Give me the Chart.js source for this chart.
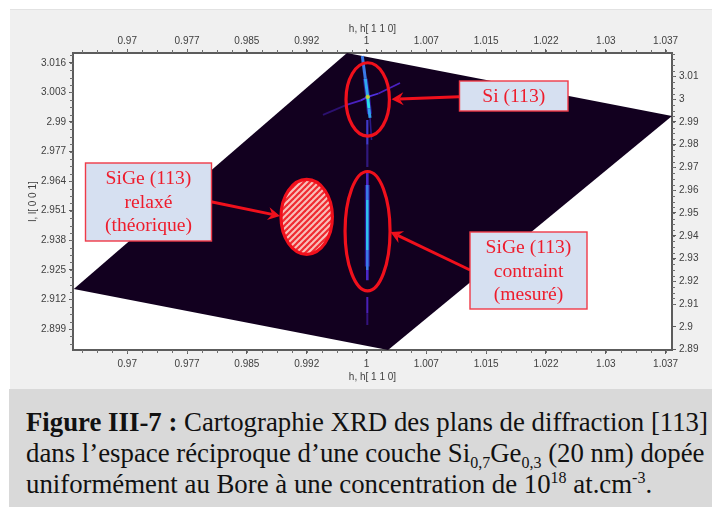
<!DOCTYPE html>
<html lang="fr">
<head>
<meta charset="utf-8">
<title>Figure III-7</title>
<script src="https://cdn.jsdelivr.net/npm/chart.js@4"></script>
<style>
  html, body { margin: 0; padding: 0; background: #fff; }
  body { position: relative; width: 712px; height: 507px; overflow: hidden; }
  #panel { position: absolute; left: 10px; top: 9px; width: 702px; height: 379px; background: #f0f0f0; border-top: 1px solid #e2e2e2; }
  #map { position: absolute; left: 0; top: 0; filter: blur(0.5px); }
  #caption { position: absolute; left: 9px; top: 389px; width: 703px; height: 118px; background: #d9d9d9; }
  #caption div { position: absolute; left: 17px; font: 26.8px/31px "Liberation Serif", serif; color: #111; white-space: nowrap; }
  #caption sub, #caption sup { font-size: 16px; line-height: 0; }
</style>
</head>
<body>
<div id="panel"></div>
<canvas id="map" width="712" height="389"></canvas>
<div id="caption">
  <div style="top:18px"><b>Figure III-7 :</b> Cartographie XRD des plans de diffraction [113]</div>
  <div style="top:49px">dans l’espace réciproque d’une couche Si<sub>0,7</sub>Ge<sub>0,3</sub> (20 nm) dopée</div>
  <div style="top:80px">uniformément au Bore à une concentration de 10<sup>18</sup> at.cm<sup>-3</sup>.</div>
</div>
<script>
// axis ticks
const hTicks = [0.97, 0.9775, 0.985, 0.9925, 1, 1.0075, 1.015, 1.0225, 1.03, 1.0375];
const hLabels = ["0.97", "0.977", "0.985", "0.992", "1", "1.007", "1.015", "1.022", "1.03", "1.037"];
const lLeftTicks = [3.016, 3.003, 2.99, 2.977, 2.964, 2.951, 2.938, 2.925, 2.912, 2.899];
const lRightTicks = [3.01, 3, 2.99, 2.98, 2.97, 2.96, 2.95, 2.94, 2.93, 2.92, 2.91, 2.9, 2.89];
const lRightLabels = ["3.01", "3", "2.99", "2.98", "2.97", "2.96", "2.95", "2.94", "2.93", "2.92", "2.91", "2.9", "2.89"];

// measured area (corners of the scan)
const areaH = [0.99755, 1.0383, 1.0027, 0.9633, 0.99755];
const areaL = [3.0203, 2.9926, 2.8898, 2.9166, 3.0203];

// intensity streaks
const siH = [0.99947, 0.99985, 1.00015, 1.0003, 1.00044];
const siL = [3.019, 3.009, 3.001, 2.996, 2.9918];
const siColors = ["#3a78e8", "#30a8f0", "#28e0e8", "#30a0f0"];
const siGlowH = [0.99985, 1.00015, 1.00038];
const siGlowL = [3.009, 3.001, 2.9935];
const siTailH = [1.00044, 1.00063];
const siTailL = [2.9918, 2.9821];
const siTailColors = ["#2a1a88"];
const crossH = [0.99454, 0.9975, 0.9993, 1.00015, 1.0015, 1.0042];
const crossL = [2.9931, 2.9975, 2.9995, 3.001, 3.0025, 3.0071];
const crossColors = ["#2c1070", "#4a20c0", "#5030e0", "#5030e0", "#4a20c0"];
const linkH = [1.0001, 1.0001, 1.0001];
const linkL = [2.9909, 2.98, 2.9702];
const linkColors = ["#4038c8", "#30187c"];
const sigeH = [1.0001, 1.0001, 1.0001, 1.0001, 1.0001, 1.0001, 1.0001];
const sigeL = [2.9685, 2.9623, 2.9557, 2.9447, 2.9337, 2.9249, 2.9205];
const sigeColors = ["#4a28c8", "#3a78e8", "#30c0f0", "#30c0f0", "#3a78e8", "#4a28c8"];
const sigeGlowH = [1.0001, 1.0001];
const sigeGlowL = [2.9623, 2.9265];
const tailH = [1.0001, 1.0001, 1.0001];
const tailL = [2.9131, 2.906, 2.9008];
const tailColors = ["#4a20b8", "#34127c"];
const glowColors = ["#2c1490"];
const peakH = [1.00015];
const peakL = [3.001];

// annotations
const regionH = [1.00015, 1.00013, 0.9925];
const regionL = [2.9999, 2.942, 2.9483];
const regionRx = [21.7, 22.5, 25.7];
const regionRy = [36.7, 59.7, 37.5];
const boxes = [
  { x: 459.5, y: 81, w: 108.5, h: 30, lines: ["Si (113)"], top: 96.5 },
  { x: 85.5, y: 163, w: 126, h: 78, lines: ["SiGe (113)", "relaxé", "(théorique)"], top: 179 },
  { x: 470, y: 232, w: 117, h: 77, lines: ["SiGe (113)", "contraint", "(mesuré)"], top: 248 },
];
const arrows = [
  [459, 96.8, 391.5, 99.3],
  [211, 201.7, 280, 216],
  [470, 270, 390.5, 232],
];

const toPoints = (hs, ls) => hs.map((h, i) => ({ x: h, y: ls[i] }));

function streak(hs, ls, colors, width) {
  return {
    data: toPoints(hs, ls),
    showLine: true,
    pointRadius: 0,
    borderWidth: width,
    borderColor: colors[0],
    segment: { borderColor: (ctx) => colors[ctx.p0DataIndex % colors.length] },
  };
}

function sideAxis(position, ticks, labels, size, tickPadding, title) {
  const horizontal = position === "top" || position === "bottom";
  return {
    type: "linear",
    axis: horizontal ? "x" : "y",
    position: position,
    min: horizontal ? 0.9632 : 2.8898,
    max: horizontal ? 1.0383 : 3.0203,
    border: { display: true, color: "#5c5c5c", width: 2 },
    grid: { drawOnChartArea: false, drawTicks: true, tickLength: 4, color: "#5c5c5c" },
    afterBuildTicks: (scale) => {
      scale.ticks = ticks.map((v) => ({ value: v }));
    },
    ticks: {
      autoSkip: false,
      maxRotation: 0,
      padding: tickPadding,
      color: "#404040",
      font: { family: "Liberation Sans", size: 10 },
      callback: (v, i) => labels[i],
    },
    afterFit: (scale) => {
      if (horizontal) scale.height = size;
      else scale.width = size;
    },
    title: title,
  };
}

function axisTitle(text, padding) {
  return {
    display: true,
    text: text,
    color: "#404040",
    font: { family: "Liberation Sans", size: 10 },
    padding: padding,
  };
}

// small marks between the labelled ticks, on all four sides
const minorTicks = {
  id: "minorTicks",
  afterDraw(chart) {
    const ctx = chart.ctx;
    ctx.save();
    ctx.strokeStyle = "#707070";
    ctx.lineWidth = 1;
    ["x", "x2", "y", "y2"].forEach((id) => {
      const s = chart.scales[id];
      const vals = s.ticks.map((t) => t.value);
      const step = Math.abs(vals[1] - vals[0]) / 4;
      for (let v = vals[0] - step * 40; v < s.max + step * 40; v += step) {
        if (v < s.min || v > s.max) continue;
        const p = Math.round(s.getPixelForValue(v)) + 0.5;
        ctx.beginPath();
        if (id === "x") { ctx.moveTo(p, chart.chartArea.bottom); ctx.lineTo(p, chart.chartArea.bottom + 3); }
        if (id === "x2") { ctx.moveTo(p, chart.chartArea.top); ctx.lineTo(p, chart.chartArea.top - 3); }
        if (id === "y") { ctx.moveTo(chart.chartArea.left, p); ctx.lineTo(chart.chartArea.left - 3, p); }
        if (id === "y2") { ctx.moveTo(chart.chartArea.right, p); ctx.lineTo(chart.chartArea.right + 3, p); }
        ctx.stroke();
      }
    });
    ctx.restore();
  },
};

function hatch(ctx) {
  const c = document.createElement("canvas");
  c.width = 6;
  c.height = 6;
  const g = c.getContext("2d");
  g.fillStyle = "#f8c0ba";
  g.fillRect(0, 0, 6, 6);
  g.strokeStyle = "#f02a30";
  g.lineWidth = 2.2;
  [[-3, 3, 3, -3], [0, 6, 6, 0], [3, 9, 9, 3]].forEach((l) => {
    g.beginPath();
    g.moveTo(l[0], l[1]);
    g.lineTo(l[2], l[3]);
    g.stroke();
  });
  return ctx.createPattern(c, "repeat");
}

// white plot background
const plotBackground = {
  id: "plotBackground",
  beforeDraw(chart) {
    const a = chart.chartArea;
    chart.ctx.fillStyle = "#fff";
    chart.ctx.fillRect(a.left, a.top, a.width, a.height);
  },
};

// ellipses, arrows and labelled boxes
const callouts = {
  id: "callouts",
  afterDraw(chart) {
    const ctx = chart.ctx;
    const red = "#f0101c";
    ctx.save();
    regionH.forEach((h, i) => {
      const px = chart.scales.x.getPixelForValue(h);
      const py = chart.scales.y.getPixelForValue(regionL[i]);
      ctx.beginPath();
      ctx.ellipse(px, py, regionRx[i], regionRy[i], 0, 0, Math.PI * 2);
      if (i === 2) {
        ctx.fillStyle = hatch(ctx);
        ctx.fill();
      }
      ctx.strokeStyle = red;
      ctx.lineWidth = 3.2;
      ctx.stroke();
    });
    arrows.forEach((a) => {
      const angle = Math.atan2(a[3] - a[1], a[2] - a[0]);
      const back = (d, off) => [
        a[2] - d * Math.cos(angle) - off * Math.sin(angle),
        a[3] - d * Math.sin(angle) + off * Math.cos(angle),
      ];
      const neck = back(8, 0);
      ctx.strokeStyle = red;
      ctx.lineWidth = 3;
      ctx.beginPath();
      ctx.moveTo(a[0], a[1]);
      ctx.lineTo(neck[0], neck[1]);
      ctx.stroke();
      ctx.fillStyle = red;
      ctx.beginPath();
      ctx.moveTo(a[2], a[3]);
      ctx.lineTo(...back(12, 6.5));
      ctx.lineTo(...neck);
      ctx.lineTo(...back(12, -6.5));
      ctx.closePath();
      ctx.fill();
    });
    ctx.textAlign = "center";
    ctx.textBaseline = "middle";
    ctx.font = '19.6px "Liberation Serif"';
    boxes.forEach((b) => {
      ctx.fillStyle = "#d6e0f1";
      ctx.fillRect(b.x, b.y, b.w, b.h);
      ctx.strokeStyle = "#ef3a48";
      ctx.lineWidth = 1.4;
      ctx.strokeRect(b.x, b.y, b.w, b.h);
      ctx.fillStyle = "#ee1c2c";
      b.lines.forEach((line, i) => ctx.fillText(line, b.x + b.w / 2, b.top + i * 23.5));
    });
    ctx.restore();
  },
};

new Chart(document.getElementById("map"), {
  type: "scatter",
  data: {
    datasets: [
      { data: toPoints(peakH, peakL), pointRadius: 1.8, pointBorderWidth: 1, pointBorderColor: "#88e050", pointBackgroundColor: "#e8c030" },
      streak(siH, siL, siColors, 3),
      streak(sigeH, sigeL, sigeColors, 2.6),
      streak(siTailH, siTailL, siTailColors, 1.6),
      streak(linkH, linkL, linkColors, 2.2),
      streak(tailH, tailL, tailColors, 2),
      streak(crossH, crossL, crossColors, 1.8),
      streak(siGlowH, siGlowL, glowColors, 5),
      streak(sigeGlowH, sigeGlowL, glowColors, 5),
      {
        data: toPoints(areaH, areaL),
        showLine: true,
        tension: 0,
        pointRadius: 0,
        borderWidth: 0,
        backgroundColor: "#12001f",
        fill: "shape",
      },
    ],
  },
  options: {
    responsive: false,
    animation: false,
    layout: { padding: 0 },
    plugins: {
      legend: { display: false },
      tooltip: { enabled: false },
    },
    scales: {
      x: sideAxis("bottom", hTicks, hLabels, 39, 4, axisTitle("h, h[ 1 1 0]", { top: 0, bottom: 6 })),
      x2: sideAxis("top", hTicks, hLabels, 53, 2, axisTitle("h, h[ 1 1 0]", { top: 23, bottom: 0 })),
      y: sideAxis("left", lLeftTicks, lLeftTicks.map(String), 73, 3, axisTitle("l, l[ 0 0 1]", { top: 27, bottom: 0 })),
      y2: sideAxis("right", lRightTicks, lRightLabels, 40, 3, { display: false }),
    },
  },
  plugins: [plotBackground, minorTicks, callouts],
});
</script>
</body>
</html>
